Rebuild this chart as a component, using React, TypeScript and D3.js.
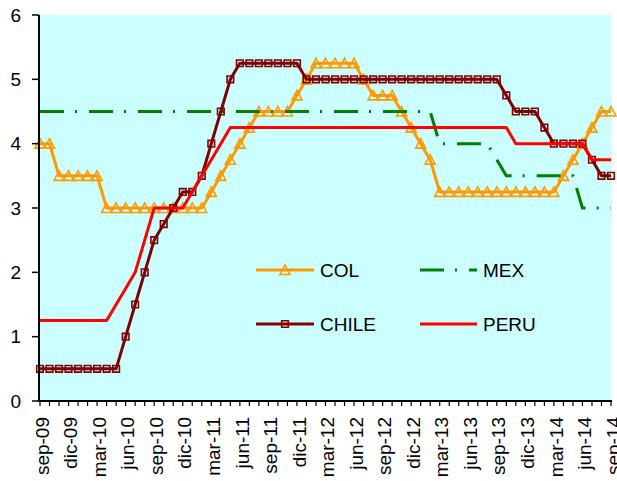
import React from "react";
import * as d3 from "d3";

const MONTHS_ES = ["ene", "feb", "mar", "abr", "may", "jun", "jul", "ago", "sep", "oct", "nov", "dic"];
// sep-09 .. sep-14 (61 months)
const months: string[] = [];
for (let k = 0; k < 61; k++) {
  const m = (8 + k) % 12;
  const yr = 9 + Math.floor((8 + k) / 12);
  months.push(`${MONTHS_ES[m]}-${String(yr).padStart(2, "0")}`);
}
const tickLabels = months.filter((_, i) => i % 3 === 0);

const colValues = [
  4.0, 4.0,
  3.5, 3.5, 3.5, 3.5, 3.5,
  3.0, 3.0, 3.0, 3.0, 3.0, 3.0, 3.0, 3.0, 3.0, 3.0, 3.0,
  3.25, 3.5, 3.75, 4.0, 4.25,
  4.5, 4.5, 4.5, 4.5,
  4.75, 5.0,
  5.25, 5.25, 5.25, 5.25, 5.25,
  5.0,
  4.75, 4.75, 4.75,
  4.5, 4.25, 4.0, 3.75,
  3.25, 3.25, 3.25, 3.25, 3.25, 3.25, 3.25, 3.25, 3.25, 3.25, 3.25, 3.25, 3.25,
  3.5, 3.75, 4.0, 4.25,
  4.5, 4.5,
];

const mexValues = [
  4.5, 4.5, 4.5, 4.5, 4.5, 4.5, 4.5, 4.5, 4.5, 4.5,
  4.5, 4.5, 4.5, 4.5, 4.5, 4.5, 4.5, 4.5, 4.5, 4.5,
  4.5, 4.5, 4.5, 4.5, 4.5, 4.5, 4.5, 4.5, 4.5, 4.5,
  4.5, 4.5, 4.5, 4.5, 4.5, 4.5, 4.5, 4.5, 4.5, 4.5,
  4.5, 4.5,
  4.0, 4.0, 4.0, 4.0, 4.0, 4.0,
  3.75,
  3.5, 3.5, 3.5, 3.5, 3.5, 3.5, 3.5, 3.5,
  3.0, 3.0, 3.0, 3.0,
];

const chileValues = [
  0.5, 0.5, 0.5, 0.5, 0.5, 0.5, 0.5, 0.5, 0.5,
  1.0, 1.5, 2.0, 2.5, 2.75, 3.0, 3.25, 3.25, 3.5, 4.0, 4.5, 5.0,
  5.25, 5.25, 5.25, 5.25, 5.25, 5.25, 5.25,
  5.0, 5.0, 5.0, 5.0, 5.0, 5.0, 5.0, 5.0, 5.0, 5.0,
  5.0, 5.0, 5.0, 5.0, 5.0, 5.0, 5.0, 5.0, 5.0, 5.0, 5.0,
  4.75,
  4.5, 4.5, 4.5,
  4.25,
  4.0, 4.0, 4.0, 4.0,
  3.75,
  3.5, 3.5,
];

const peruValues = [
  1.25, 1.25, 1.25, 1.25, 1.25, 1.25, 1.25, 1.25,
  1.5, 1.75, 2.0, 2.5,
  3.0, 3.0, 3.0, 3.0,
  3.25, 3.5, 3.75, 4.0,
  4.25, 4.25, 4.25, 4.25, 4.25, 4.25, 4.25, 4.25, 4.25, 4.25,
  4.25, 4.25, 4.25, 4.25, 4.25, 4.25, 4.25, 4.25, 4.25, 4.25,
  4.25, 4.25, 4.25, 4.25, 4.25, 4.25, 4.25, 4.25, 4.25, 4.25,
  4.0, 4.0, 4.0, 4.0, 4.0, 4.0, 4.0, 4.0,
  3.75, 3.75, 3.75,
];

const yTicks = [0, 1, 2, 3, 4, 5, 6];

const W = 617;
const H = 481;
const PLOT = { left: 39, right: 612, top: 15, bottom: 401 };
const FONT = "'Liberation Sans', Arial, sans-serif";

const COLORS = { COL: "#FF9900", MEX: "#008000", CHILE: "#800000", PERU: "#FF0000" };

const triPath = "M0,-5L5,4.5L-5,4.5Z";
const sqPath = "M-3.3,-3.3H3.3V3.3H-3.3Z";

export default function App() {
  const x = d3.scalePoint<string>().domain(months).range([40, 611]);
  const y = d3.scaleLinear().domain([0, 6]).range([PLOT.bottom, PLOT.top]);

  const line = d3
    .line<number>()
    .x((_, i) => x(months[i]) as number)
    .y((d) => y(d));

  return (
    <svg
      width={W}
      height={H}
      style={{ position: "absolute", left: 0, top: 0, background: "#fff" }}
      fontFamily={FONT}
    >
      <rect x={0} y={0} width={W} height={H} fill="#fff" />
      <rect
        x={PLOT.left}
        y={PLOT.top}
        width={PLOT.right - PLOT.left}
        height={PLOT.bottom - PLOT.top}
        fill="#CCFFFF"
      />

      {/* series */}
      <path d={line(colValues) || ""} fill="none" stroke={COLORS.COL} strokeWidth={3} strokeLinejoin="round" />
      {colValues.map((v, i) => (
        <path
          key={`c${i}`}
          d={triPath}
          transform={`translate(${x(months[i])},${y(v)})`}
          fill="none"
          stroke={COLORS.COL}
          strokeWidth={1.6}
        />
      ))}
      <path
        d={line(mexValues) || ""}
        fill="none"
        stroke={COLORS.MEX}
        strokeWidth={3}
        strokeDasharray="24 11 2 12"
      />
      <path d={line(chileValues) || ""} fill="none" stroke={COLORS.CHILE} strokeWidth={3} strokeLinejoin="round" />
      {chileValues.map((v, i) => (
        <path
          key={`h${i}`}
          d={sqPath}
          transform={`translate(${x(months[i])},${y(v)})`}
          fill="none"
          stroke={COLORS.CHILE}
          strokeWidth={1.6}
        />
      ))}
      <path d={line(peruValues) || ""} fill="none" stroke={COLORS.PERU} strokeWidth={3} strokeLinejoin="round" />

      {/* axes */}
      <line x1={PLOT.left} x2={PLOT.left} y1={PLOT.top} y2={PLOT.bottom} stroke="#000" strokeWidth={2} />
      {yTicks.map((t) => (
        <g key={`y${t}`}>
          <line x1={32} x2={PLOT.left} y1={y(t)} y2={y(t)} stroke="#000" strokeWidth={1.5} />
          <text x={21} y={y(t)} dy="0.35em" textAnchor="end" fontSize={19} fill="#000">
            {t}
          </text>
        </g>
      ))}
      <line x1={PLOT.left} x2={PLOT.right} y1={PLOT.bottom} y2={PLOT.bottom} stroke="#000" strokeWidth={2} />
      {months.map((m) => (
        <line
          key={`xt${m}`}
          x1={x(m)}
          x2={x(m)}
          y1={PLOT.bottom}
          y2={PLOT.bottom + 5}
          stroke="#000"
          strokeWidth={1.2}
        />
      ))}
      {tickLabels.map((m) => (
        <text
          key={`xl${m}`}
          transform={`translate(${(x(m) as number) + 2},${417}) rotate(-90)`}
          dy="0.35em"
          textAnchor="end"
          fontSize={19}
          fill="#000"
        >
          {m}
        </text>
      ))}

      {/* legend */}
      <g>
        <line x1={256} x2={314} y1={270} y2={270} stroke={COLORS.COL} strokeWidth={3} />
        <path d={triPath} transform="translate(285,270)" fill="none" stroke={COLORS.COL} strokeWidth={1.6} />
        <text x={320} y={277} fontSize={19} fill="#000">COL</text>

        <line x1={420} x2={477} y1={270} y2={270} stroke={COLORS.MEX} strokeWidth={3} strokeDasharray="24 11 2 12" />
        <text x={483} y={277} fontSize={19} fill="#000">MEX</text>

        <line x1={256} x2={314} y1={324} y2={324} stroke={COLORS.CHILE} strokeWidth={3} />
        <path d={sqPath} transform="translate(285,324)" fill="none" stroke={COLORS.CHILE} strokeWidth={1.6} />
        <text x={320} y={331} fontSize={19} fill="#000">CHILE</text>

        <line x1={420} x2={477} y1={324} y2={324} stroke={COLORS.PERU} strokeWidth={3} />
        <text x={483} y={331} fontSize={19} fill="#000">PERU</text>
      </g>
    </svg>
  );
}
